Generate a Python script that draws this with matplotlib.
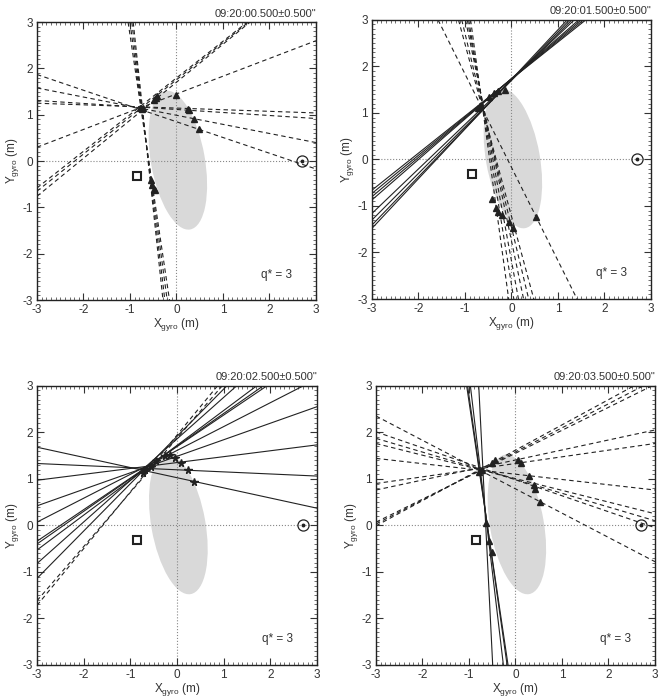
import matplotlib
matplotlib.use("Agg")
import matplotlib.pyplot as plt
from matplotlib.patches import Ellipse
from matplotlib.ticker import MultipleLocator

plt.rcParams['font.family'] = ['Liberation Sans', 'DejaVu Sans']
plt.rcParams['mathtext.fontset'] = 'custom'
plt.rcParams['mathtext.rm'] = 'Liberation Sans'
plt.rcParams['mathtext.it'] = 'Liberation Sans'
plt.rcParams['axes.unicode_minus'] = False

# titles of the four panels
titles = ['09:20:00.500\u00b10.500"', '09:20:01.500\u00b10.500"',
          '09:20:02.500\u00b10.500"', '09:20:03.500\u00b10.500"']

# fixed marks (same in every panel)
square_xy = (-0.85, -0.32)
sun_xy = (2.7, 0.0)
ell_center = (0.03, 0.02)
ell_major = 3.04
ell_minor = 1.16
ell_angle = 100

# lines given by two points: x0, y0, x1, y1
# panel 1 (all dashed)
p1_dashed = [(-3, 1.87, 3, -0.17), (-3, 1.58, 3, 0.40), (-3, 1.31, 3, 0.92),
             (-3, 1.25, 3, 1.04), (-3, 0.30, 3, 2.60), (-3, -0.58, 1.52, 3),
             (-3, -0.65, 1.55, 3), (-3, -0.76, 1.58, 3),
             (-1.04, 3, -0.15, -3), (-1.00, 3, -0.20, -3),
             (-0.96, 3, -0.25, -3), (-0.93, 3, -0.29, -3)]
p1_solid = []
p1_mx = [0.48, 0.38, 0.28, 0.25, 0.0, -0.49, -0.45, -0.42, -0.54, -0.52, -0.49, -0.47, -0.78, -0.72, -0.75]
p1_my = [0.70, 0.90, 1.10, 1.13, 1.42, 1.31, 1.37, 1.40, -0.40, -0.52, -0.60, -0.63, 1.14, 1.15, 1.12]

# panel 2
p2_solid = [(-3, -0.66, 1.60, 3), (-3, -0.73, 1.55, 3), (-3, -0.80, 1.50, 3),
            (-3, -0.87, 1.45, 3), (-3, -1.16, 1.35, 3), (-3, -1.30, 1.30, 3),
            (-3, -1.41, 1.25, 3), (-3, -1.48, 1.20, 3)]
p2_dashed = [(-1.14, 3, 0.48, -3), (-1.07, 3, 0.37, -3), (-0.99, 3, 0.26, -3),
             (-0.95, 3, 0.15, -3), (-0.92, 3, 0.05, -3), (-0.88, 3, -0.06, -3),
             (-1.58, 3, 1.41, -3)]
p2_mx = [-0.49, -0.38, -0.30, -0.15, -0.72, -0.68, 0.03, -0.05, -0.20, -0.28, -0.33, -0.42, 0.53]
p2_my = [1.35, 1.42, 1.48, 1.49, 1.10, 1.14, -1.47, -1.35, -1.20, -1.12, -1.05, -0.84, -1.24]

# panel 3
p3_solid = [(-3, 1.68, 3, 0.37), (-3, 1.33, 3, 1.06), (-3, 0.97, 3, 1.73),
            (-3, 0.42, 3, 2.55), (-3, 0.07, 2.71, 3), (-3, -0.34, 1.93, 3),
            (-3, -0.40, 1.85, 3), (-3, -0.53, 1.71, 3), (-3, -0.82, 1.28, 3),
            (-3, -1.14, 1.07, 3)]
p3_dashed = [(-3, -1.62, 0.97, 3), (-3, -1.72, 0.87, 3)]
p3_mx = [0.36, 0.23, 0.09, -0.04, -0.15, -0.26, -0.44, -0.55, -0.68, -0.72]
p3_my = [0.94, 1.18, 1.34, 1.45, 1.52, 1.49, 1.38, 1.26, 1.18, 1.12]

# panel 4
p4_solid = [(-1.05, 3, -0.16, -3), (-1.03, 3, -0.18, -3), (-0.97, 3, -0.26, -3),
            (-0.79, 3, -0.49, -3)]
p4_dashed = [(-3, 2.35, 3, -0.78), (-3, 2.01, 3, -0.05), (-3, 1.87, 3, 0.10),
             (-3, 1.76, 3, 0.25), (-3, 1.44, 3, 0.76), (-3, 0.90, 3, 1.76),
             (-3, 0.76, 3, 2.05), (-3, 0.07, 2.94, 3), (-3, 0.03, 2.75, 3),
             (-3, -0.01, 2.55, 3)]
p4_mx = [0.53, 0.43, 0.39, 0.30, 0.12, 0.05, -0.51, -0.44, -0.64, -0.58, -0.50, -0.78, -0.72]
p4_my = [0.51, 0.79, 0.86, 1.06, 1.33, 1.40, 1.33, 1.40, 0.06, -0.33, -0.58, 1.15, 1.18]

panels = [
    (p1_solid, p1_dashed, p1_mx, p1_my, '^'),
    (p2_solid, p2_dashed, p2_mx, p2_my, '^'),
    (p3_solid, p3_dashed, p3_mx, p3_my, '*'),
    (p4_solid, p4_dashed, p4_mx, p4_my, '^'),
]

# axes positions in figure fractions [left, bottom, width, height]
positions = [[0.0556, 0.5702, 0.4195, 0.398],
             [0.5594, 0.5716, 0.4195, 0.400],
             [0.0556, 0.0473, 0.4210, 0.400],
             [0.5654, 0.0473, 0.4195, 0.400]]

fig = plt.figure(figsize=(6.65, 6.98), dpi=100)

for i, (solid, dashed, mx, my, mk) in enumerate(panels):
    ax = fig.add_axes(positions[i])
    ax.set_xlim(-3, 3)
    ax.set_ylim(-3, 3)

    ax.add_patch(Ellipse(ell_center, ell_major, ell_minor, angle=ell_angle,
                         facecolor='#d9d9d9', edgecolor='none', zorder=0))
    ax.axhline(0, color='#888888', ls=':', lw=0.8, zorder=1)
    ax.axvline(0, color='#888888', ls=':', lw=0.8, zorder=1)

    for (x0, y0, x1, y1) in solid:
        ax.axline((x0, y0), (x1, y1), color='#222222', lw=0.8, zorder=2)
    for (x0, y0, x1, y1) in dashed:
        ax.axline((x0, y0), (x1, y1), color='#222222', lw=0.8,
                  dashes=(4, 3), zorder=2)

    ms = 5 if mk == '^' else 5.5
    ax.plot(mx, my, ls='none', marker=mk, ms=ms, color='#222222', zorder=3)

    ax.plot(*square_xy, marker='s', ms=6, mfc='white', mec='#222222', mew=1.5, zorder=4)
    ax.plot(*sun_xy, marker='o', ms=8, mfc='none', mec='#222222', mew=0.9, zorder=4)
    ax.plot(*sun_xy, marker='o', ms=1.8, color='#222222', zorder=4)

    ax.text(2.15, -2.45, 'q* = 3', fontsize=8.5, ha='center', va='center', color='#333333')

    ax.set_xticks([-3, -2, -1, 0, 1, 2, 3])
    ax.set_yticks([-3, -2, -1, 0, 1, 2, 3])
    ax.xaxis.set_minor_locator(MultipleLocator(0.1))
    ax.yaxis.set_minor_locator(MultipleLocator(0.1))
    ax.tick_params(which='both', direction='in', top=True, right=True,
                   labelsize=8.5, colors='#333333')
    ax.tick_params(which='major', length=5, width=0.8, pad=3)
    ax.tick_params(which='minor', length=2, width=0.5)
    for sp in ax.spines.values():
        sp.set_linewidth(1.0)
        sp.set_color('#222222')

    ax.set_xlabel(r'X$_{\mathrm{gyro}}$ (m)', fontsize=8.5, color='#333333', labelpad=0)
    ax.set_ylabel(r'Y$_{\mathrm{gyro}}$ (m)', fontsize=8.5, color='#333333', labelpad=1)
    ax.set_title(titles[i], loc='right', fontsize=8, color='#333333', pad=4)

fig.savefig('out.png', dpi=100)
